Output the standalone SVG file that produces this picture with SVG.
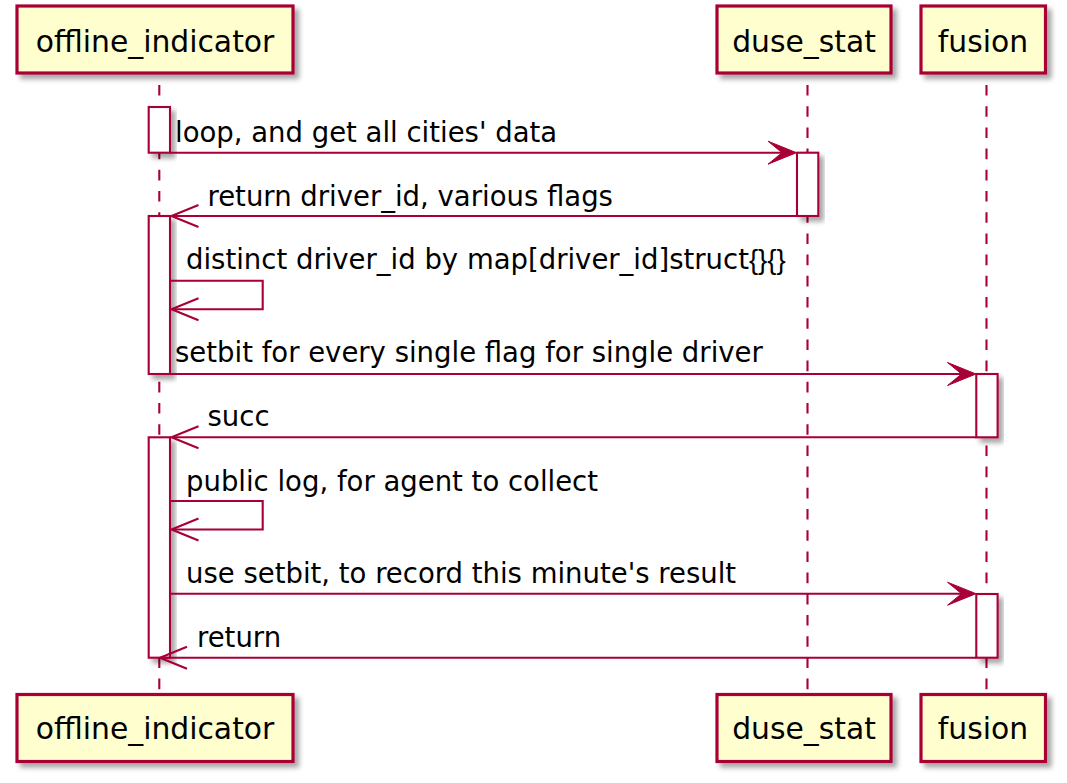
<svg xmlns="http://www.w3.org/2000/svg" width="1067" height="783" viewBox="0 0 1067 783">
<defs>
<filter id="sh" x="-20%" y="-20%" width="150%" height="150%">
<feDropShadow dx="4.5" dy="4.5" stdDeviation="2.5" flood-color="#000" flood-opacity="0.35"/>
</filter>
</defs>
<style>
.part{fill:#FEFECE;stroke:#A80036;stroke-width:3.2;}
.ptxt{font-family:"DejaVu Sans",sans-serif;font-size:29.8px;fill:#000;text-anchor:middle;}
.life{stroke:#A80036;stroke-width:2.1;stroke-dasharray:10.6 10.6;fill:none;}
.act{fill:#FFFFFF;stroke:#A80036;stroke-width:2.1;}
.msg{stroke:#A80036;stroke-width:2.1;fill:none;}
.head{fill:#A80036;stroke:#A80036;stroke-width:1;}
.mtxt{font-family:"DejaVu Sans",sans-serif;font-size:27.5px;fill:#000;}
.br{font-family:"Liberation Sans",sans-serif;}
</style>
<rect width="1067" height="783" fill="#FFFFFF"/>
<g id="lifelines">
<line class="life" x1="159.3" y1="85" x2="159.3" y2="690"/>
<line class="life" x1="807.5" y1="85" x2="807.5" y2="690"/>
<line class="life" x1="986.5" y1="85" x2="986.5" y2="690"/>
</g>
<g id="offline_indicator">
<rect class="part" x="17" y="6" width="276" height="67" filter="url(#sh)"/>
<text class="ptxt" x="155" y="51.7">offline_indicator</text>
<rect class="part" x="17" y="694.5" width="276" height="67" filter="url(#sh)"/>
<text class="ptxt" x="155" y="739">offline_indicator</text>
</g>
<g id="duse_stat">
<rect class="part" x="717" y="6" width="174" height="67" filter="url(#sh)"/>
<text class="ptxt" x="804" y="51.7">duse_stat</text>
<rect class="part" x="717" y="694.5" width="174" height="67" filter="url(#sh)"/>
<text class="ptxt" x="804" y="739">duse_stat</text>
</g>
<g id="fusion">
<rect class="part" x="921" y="6" width="124.5" height="67" filter="url(#sh)"/>
<text class="ptxt" x="983" y="51.7">fusion</text>
<rect class="part" x="921" y="694.5" width="124.5" height="67" filter="url(#sh)"/>
<text class="ptxt" x="983" y="739">fusion</text>
</g>
<g id="activations">
<rect class="act" x="148.7" y="107" width="21.3" height="45.7" filter="url(#sh)"/>
<rect class="act" x="148.7" y="216" width="21.3" height="158" filter="url(#sh)"/>
<rect class="act" x="148.7" y="437.3" width="21.3" height="220.4" filter="url(#sh)"/>
<rect class="act" x="797" y="152.7" width="21.3" height="63.3" filter="url(#sh)"/>
<rect class="act" x="976.3" y="374" width="21.3" height="63.3" filter="url(#sh)"/>
<rect class="act" x="976.3" y="594" width="21.3" height="63.7" filter="url(#sh)"/>
</g>
<g id="connectors">
<line class="msg" x1="170" y1="152.7" x2="790" y2="152.7"/>
<polygon class="head" points="796.5,152.7 768,141.2 782,152.7 768,164.2"/>
<line class="msg" x1="797" y1="216" x2="172" y2="216"/>
<polyline class="msg" points="198.5,205 171.5,216 198.5,227"/>
<polyline class="msg" points="170,280.7 262.7,280.7 262.7,309.3 172,309.3"/>
<polyline class="msg" points="198.5,298.3 171.5,309.3 198.5,320.3"/>
<line class="msg" x1="170" y1="374" x2="970" y2="374"/>
<polygon class="head" points="976,374 947.5,362.5 961.5,374 947.5,385.5"/>
<line class="msg" x1="976.3" y1="437.3" x2="172" y2="437.3"/>
<polyline class="msg" points="198.5,426.3 171.5,437.3 198.5,448.3"/>
<polyline class="msg" points="170,501 262.7,501 262.7,529.5 172,529.5"/>
<polyline class="msg" points="198.5,518.5 171.5,529.5 198.5,540.5"/>
<line class="msg" x1="170" y1="593.7" x2="970" y2="593.7"/>
<polygon class="head" points="976,593.7 947.5,582.2 961.5,593.7 947.5,605.2"/>
<line class="msg" x1="976.3" y1="657.7" x2="161" y2="657.7"/>
<polyline class="msg" points="187,646.7 160,657.7 187,668.7"/>
</g>
<g id="labels">
<text class="mtxt" x="175" y="142">loop, and get all cities' data</text>
<text class="mtxt" x="207.5" y="206">return driver_id, various flags</text>
<text class="mtxt" x="186" y="269">distinct driver_id by map[driver_id]struct<tspan class="br">{}{}</tspan></text>
<text class="mtxt" x="175" y="362">setbit for every single flag for single driver</text>
<text class="mtxt" x="207.5" y="426">succ</text>
<text class="mtxt" x="186" y="491">public log, for agent to collect</text>
<text class="mtxt" x="186" y="583">use setbit, to record this minute's result</text>
<text class="mtxt" x="197" y="647">return</text>
</g>
</svg>
